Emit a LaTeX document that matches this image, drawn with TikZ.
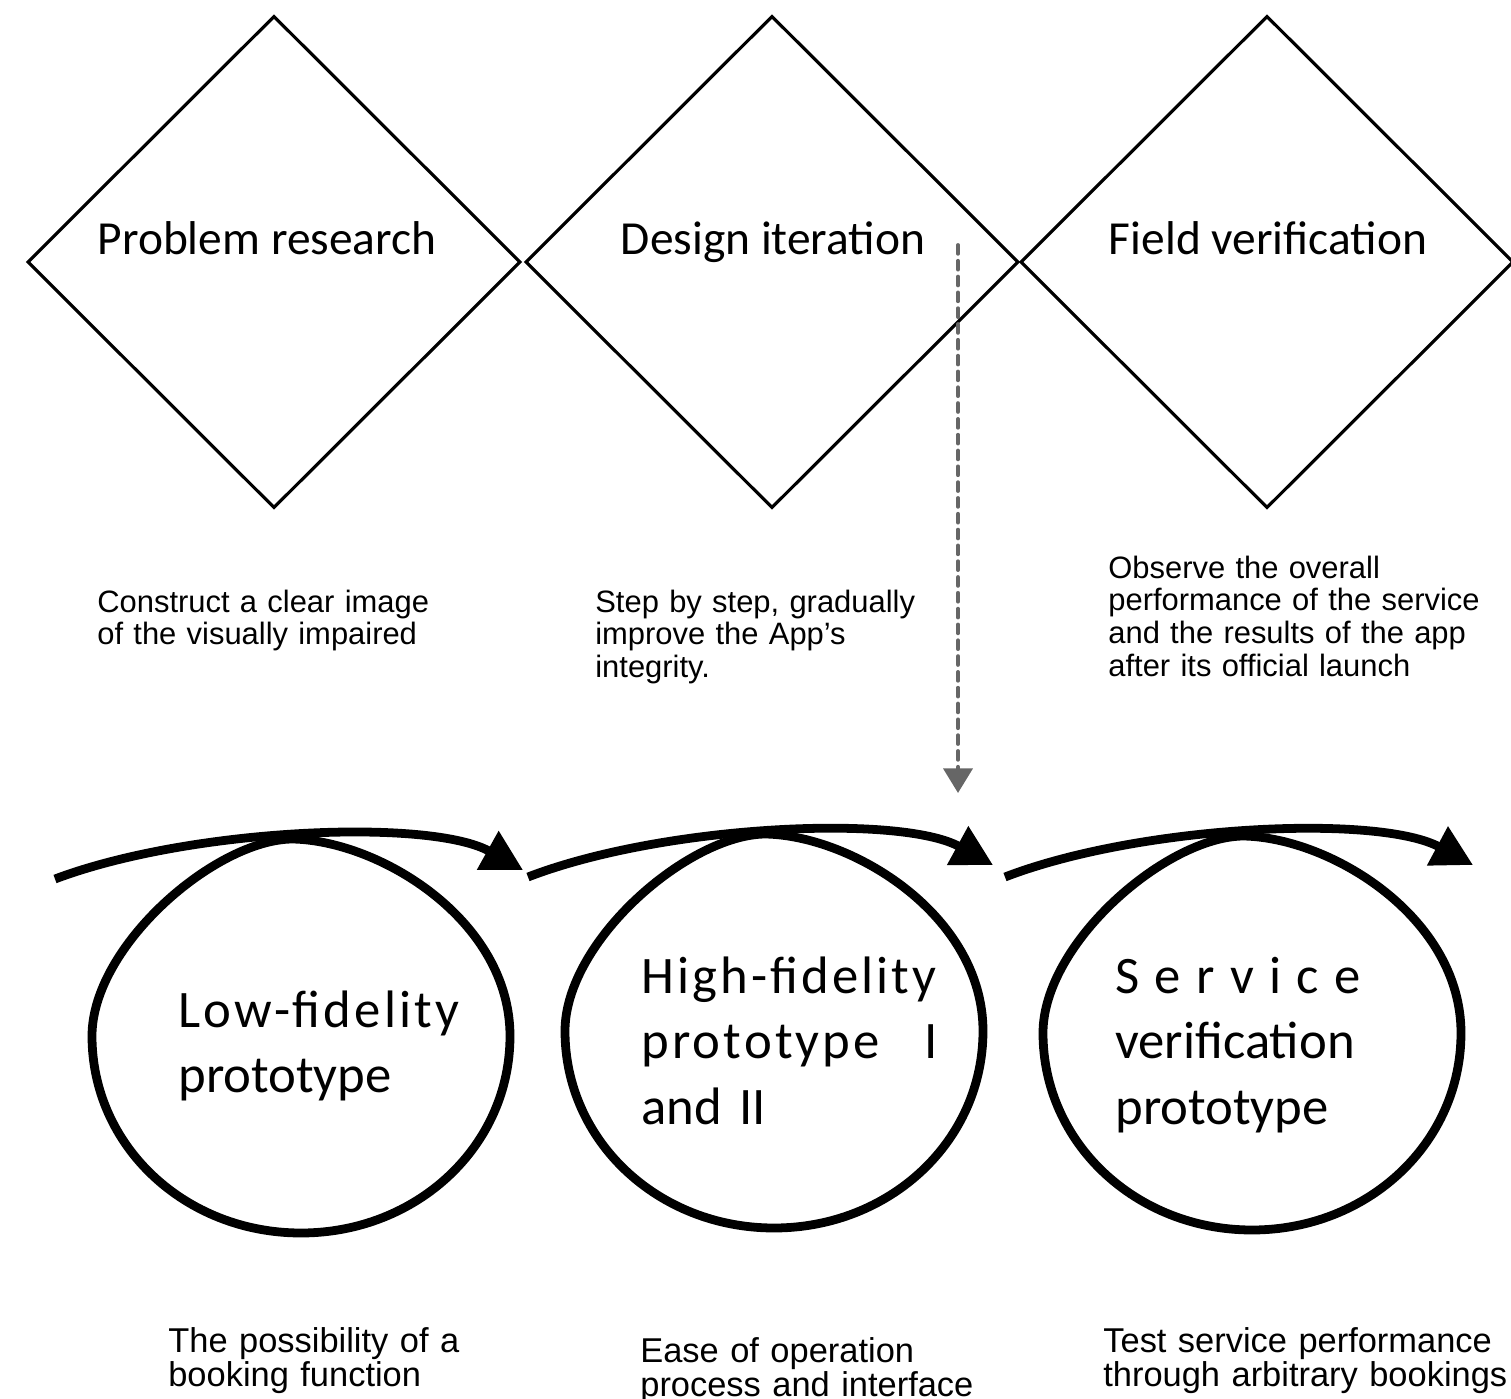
\documentclass[tikz,border=0pt]{standalone}
\usepackage{fontspec}
\setmainfont{Liberation Sans}
\newfontfamily\calfont{Carlito}
\usetikzlibrary{shapes.geometric,arrows.meta}
\definecolor{dashgray}{HTML}{666666}

\begin{document}
\begin{tikzpicture}[x=0.02cm,y=-0.02cm,
    phase/.style={diamond,draw,line width=1.8pt,minimum width=9.84cm,minimum height=9.82cm,inner sep=0pt,outer sep=0pt},
    protoloop/.pic={\draw[line width=5pt,line join=round] (-8,-197) .. controls (80,-195) and (209,-115) .. (209,0)
        .. controls (209,110) and (116,197) .. (0,197) .. controls (-116,197) and (-209,110) .. (-209,0)
        .. controls (-209,-90) and (-85,-197) .. cycle;},
    phasetitle/.style={font=\calfont\fontsize{27}{32}\selectfont,anchor=base,inner sep=0pt},
    note/.style={font=\fontsize{17.6}{18.7}\selectfont,align=left,text width=9cm,anchor=base west,inner sep=0pt},
    bignote/.style={font=\fontsize{19.6}{19.8}\selectfont,align=left,text width=9cm,anchor=base west,inner sep=0pt},
    proto/.style={font=\calfont\fontsize{30}{37.4}\selectfont,align=left,anchor=base west,inner sep=0pt},
    turn/.style={line width=5pt,-{Triangle[length=23pt,width=24pt]}}]
      \useasboundingbox (0,0) rectangle (1511,1399);
      \node[phase] (research) at (274,262) {};
      \node[phase] (design) at (772,262) {};
      \node[phase] (field) at (1267,262) {};
      \node[phasetitle] (researcht) at (267,254) {Problem research};
      \node[phasetitle] (designt) at (773,254) {Design iteration};
      \node[phasetitle] (fieldt) at (1268,254) {Field verification};
      \node[note] (researchn) at (97,612) {Construct a clear image\\of the visually impaired};
      \node[note] (designn) at (595,612) {Step by step, gradually\\improve the App's\\integrity.};
      \node[note] (fieldn) at (1108,578) {Observe the overall\\performance of the service\\and the results of the app\\after its official launch};
      \coordinate (dtop) at (958,245);
      \coordinate (dtip) at (958,793);
      \draw[dashgray,line width=2.2pt,line cap=round,dash pattern=on 5pt off 4pt,-{Triangle[length=14pt,width=16.5pt]}] (dtop) -- (dtip);
      \pic (low) at (301,1036) {protoloop};
      \pic (high) at (774,1031) {protoloop};
      \pic (service) at (1252,1033) {protoloop};
      \node[proto,text width=5.9cm] (lowt) at (178,1027) {{\addfontfeature{LetterSpace=6}Low-fidelity}\\prototype};
      \node[proto,text width=5.94cm] (hight) at (641,993) {{\addfontfeature{LetterSpace=6}High-fidelity}\\{\addfontfeature{LetterSpace=6}prototype}\hfill I\\and II};
      \node[proto,text width=5.9cm] (servicet) at (1115,993) {{\addfontfeature{LetterSpace=29}Service}\\verification\\prototype};
      \coordinate (s1) at (55,879);
      \coordinate (e1) at (523,870);
      \coordinate (s2) at (528,877);
      \coordinate (e2) at (993,865);
      \coordinate (s3) at (1005,877);
      \coordinate (e3) at (1473,865);
      \draw[turn] (s1) .. controls (190,828) and (430,818) .. (e1);
      \draw[turn] (s2) .. controls (663,825) and (900,814) .. (e2);
      \draw[turn] (s3) .. controls (1140,825) and (1378,814) .. (e3);
      \node[bignote] (lown) at (168,1352) {The possibility of a\\booking function};
      \node[bignote] (highn) at (640,1362) {Ease of operation\\process and interface};
      \node[bignote] (servicen) at (1103,1352) {Test service performance\\through arbitrary bookings};
\end{tikzpicture}
\end{document}
